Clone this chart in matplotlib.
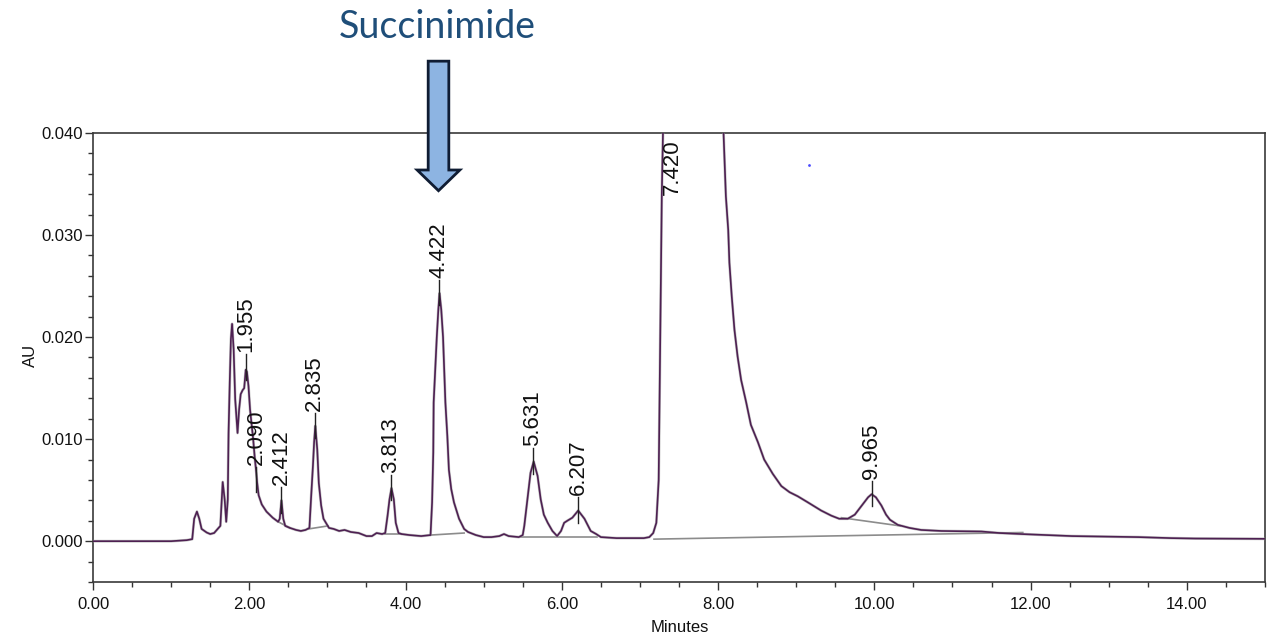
import matplotlib
matplotlib.use("Agg")
import matplotlib.pyplot as plt
from matplotlib.patches import Polygon
from matplotlib.ticker import MultipleLocator, FormatStrFormatter
import matplotlib.transforms as mtransforms

plt.rcParams['font.family'] = ['Liberation Sans', 'DejaVu Sans']

# ---- chromatogram trace (minutes, AU) ----
time_min = [0.00, 0.50, 1.00, 1.20, 1.27, 1.295, 1.33, 1.36, 1.39, 1.455, 1.50, 1.55,
            1.63, 1.66, 1.685, 1.705, 1.725, 1.735, 1.75, 1.765, 1.78, 1.80, 1.82,
            1.85, 1.87, 1.89, 1.915, 1.935, 1.955, 1.97, 1.99, 2.01, 2.05, 2.07, 2.09,
            2.10, 2.12, 2.16, 2.22, 2.30, 2.37, 2.39, 2.412, 2.435, 2.46, 2.52, 2.60,
            2.66, 2.72, 2.77, 2.79, 2.815, 2.83, 2.845, 2.87, 2.89, 2.92, 2.95, 3.02,
            3.08, 3.15, 3.22, 3.30, 3.40, 3.50, 3.57, 3.63, 3.70, 3.74, 3.77, 3.795,
            3.82, 3.85, 3.875, 3.91, 3.95, 4.05, 4.20, 4.32, 4.34, 4.355, 4.36, 4.38,
            4.40, 4.42, 4.435, 4.457, 4.48, 4.495, 4.51, 4.535, 4.555, 4.585, 4.62,
            4.685, 4.75, 4.80, 4.90, 5.00, 5.10, 5.20, 5.26, 5.32, 5.45, 5.50, 5.52,
            5.56, 5.60, 5.64, 5.69, 5.73, 5.77, 5.82, 5.88, 5.94, 5.99, 6.03, 6.07,
            6.135, 6.21, 6.29, 6.37, 6.44, 6.50, 6.70, 6.90, 7.05, 7.12, 7.17, 7.21,
            7.24, 7.26, 7.28, 7.30, 7.42, 7.90, 8.00, 8.07, 8.10, 8.13, 8.145, 8.175,
            8.21, 8.25, 8.295, 8.36, 8.42, 8.51, 8.59, 8.70, 8.81, 8.915, 9.02, 9.15,
            9.32, 9.45, 9.55, 9.66, 9.75, 9.85, 9.92, 9.965, 10.02, 10.09, 10.15, 10.20,
            10.30, 10.45, 10.60, 10.86, 11.10, 11.37, 11.60, 11.88, 12.20, 12.53,
            13.00, 13.38, 13.80, 14.11, 15.00]
absorbance = [0.0000, 0.0000, 0.0000, 0.0001, 0.0002, 0.0022, 0.0029, 0.0022, 0.0012,
              0.00085, 0.0007, 0.0008, 0.0015, 0.0058, 0.0041, 0.0019, 0.0041, 0.0106,
              0.0155, 0.0198, 0.0213, 0.0188, 0.0139, 0.0106, 0.0129, 0.0144, 0.0148,
              0.0150, 0.0168, 0.0166, 0.0152, 0.0129, 0.0100, 0.0082, 0.0067, 0.0058,
              0.0045, 0.0036, 0.0029, 0.0023, 0.0019, 0.0022, 0.0040, 0.0022, 0.0015,
              0.0013, 0.0011, 0.0010, 0.0011, 0.0013, 0.0041, 0.0074, 0.0097, 0.0113,
              0.0090, 0.0057, 0.0035, 0.0022, 0.0013, 0.0012, 0.0010, 0.0011, 0.0009,
              0.0008, 0.0005, 0.0005, 0.0008, 0.0007, 0.0008, 0.0025, 0.0041, 0.0052,
              0.0041, 0.0018, 0.0008, 0.0007, 0.0006, 0.0005, 0.0006, 0.0038, 0.0087,
              0.0136, 0.0168, 0.0200, 0.0227, 0.0243, 0.0227, 0.0200, 0.0168, 0.0136,
              0.0103, 0.0070, 0.0051, 0.0038, 0.0022, 0.0012, 0.0009, 0.0006, 0.0004,
              0.0004, 0.0005, 0.0007, 0.0005, 0.0004, 0.0006, 0.0015, 0.0041, 0.0067,
              0.0078, 0.0064, 0.0041, 0.0026, 0.0018, 0.0010, 0.0005, 0.0010, 0.0018,
              0.0020, 0.0023, 0.0030, 0.0022, 0.0010, 0.0007, 0.0004, 0.0003, 0.0003,
              0.0003, 0.0004, 0.0008, 0.0018, 0.0060, 0.0200, 0.0340, 0.0420, 0.1200,
              0.0800, 0.0500, 0.0400, 0.0338, 0.0305, 0.0273, 0.0240, 0.0207, 0.0181,
              0.0158, 0.0136, 0.0114, 0.0097, 0.0080, 0.0066, 0.0054, 0.0048, 0.0044,
              0.0038, 0.0030, 0.0025, 0.0022, 0.0022, 0.0026, 0.0036, 0.0043, 0.0046,
              0.0043, 0.0035, 0.0026, 0.0021, 0.0016, 0.0013, 0.0011, 0.0010, 0.00098,
              0.00095, 0.0008, 0.0007, 0.0006, 0.0005, 0.00045, 0.0004, 0.0003,
              0.00026, 0.00023]

# ---- labelled peaks ----
peak_labels = ["1.955", "2.090", "2.412", "2.835", "3.813", "4.422", "5.631", "6.207", "9.965"]
peak_times = [1.955, 2.090, 2.412, 2.835, 3.813, 4.422, 5.631, 6.207, 9.965]
peak_heights = [0.0170, 0.0060, 0.0040, 0.0113, 0.0052, 0.0243, 0.0078, 0.0030, 0.0046]
main_peak_label = "7.420"
main_peak_time = 7.420

# ---- integration baselines: (t0, au0, t1, au1) ----
baseline_t0 = [2.37, 2.76, 3.74, 4.32, 5.48, 7.18, 9.58]
baseline_y0 = [0.0019, 0.0012, 0.0007, 0.0006, 0.0004, 0.0002, 0.0023]
baseline_t1 = [2.52, 3.01, 3.94, 4.75, 6.45, 11.90, 10.33]
baseline_y1 = [0.0013, 0.0015, 0.0007, 0.0008, 0.0004, 0.00085, 0.0015]

stray_point_t = [9.17]
stray_point_au = [0.0369]

x_ticks = [0, 2, 4, 6, 8, 10, 12, 14]
y_ticks = [0.000, 0.010, 0.020, 0.030, 0.040]

fig = plt.figure(figsize=(12.73, 6.38), dpi=100)
ax = fig.add_axes([93 / 1273, 1 - 582 / 638, (1265 - 93) / 1273, (582 - 133) / 638])

trace_color = '#4e2052'
for t0, y0, t1, y1 in zip(baseline_t0, baseline_y0, baseline_t1, baseline_y1):
    ax.plot([t0, t1], [y0, y1], color='#8c8c8c', lw=1.2, zorder=2)
ax.plot(time_min, absorbance, color='#a0a0a0', lw=2.0, zorder=3, alpha=0.6)
ax.plot(time_min, absorbance, color=trace_color, lw=1.2, zorder=4)

for lab, t, h in zip(peak_labels, peak_times, peak_heights):
    ax.plot([t, t], [h - 0.0012, h + 0.0013], color='#222222', lw=1.0, zorder=5)
    ax.text(t, h + 0.0015, lab, rotation=90, ha='center', va='bottom',
            fontsize=16, color='#111111', zorder=6)
ax.text(main_peak_time, 0.0394, main_peak_label, rotation=90, ha='center', va='top',
        fontsize=16, color='#111111', zorder=6)

ax.plot(stray_point_t, stray_point_au, 'o', color='#4a4aff', ms=2, mec='none')

ax.set_xlim(0, 15)
ax.set_ylim(-0.004, 0.040)
ax.set_xticks(x_ticks)
ax.set_yticks(y_ticks)
ax.xaxis.set_major_formatter(FormatStrFormatter('%.2f'))
ax.yaxis.set_major_formatter(FormatStrFormatter('%.3f'))
ax.xaxis.set_minor_locator(MultipleLocator(0.5))
ax.yaxis.set_minor_locator(MultipleLocator(0.002))
ax.tick_params(axis='both', which='major', direction='out', length=6, width=1.0,
               colors='#333333', labelcolor='#111111', labelsize=12)
ax.tick_params(axis='both', which='minor', direction='out', length=3.5, width=1.0,
               colors='#333333')
ax.tick_params(axis='y', pad=1)
ax.tick_params(axis='x', pad=5)
for sp in ax.spines.values():
    sp.set_color('#3a3a3a')
    sp.set_linewidth(1.2)

fig.text(30 / 1273, 1 - 355 / 638, "AU", rotation=90, ha='center', va='center',
         fontsize=12, color='#111111')
fig.text(680 / 1273, 1 - 627 / 638, "Minutes", ha='center', va='center',
         fontsize=12, color='#111111')

# Succinimide annotation arrow (x in data units, y in axes units)
trans = mtransforms.blended_transform_factory(ax.transData, ax.transAxes)
cx = 4.422
shaft_hw = 0.132
head_hw = 0.273
y_top, y_head, y_tip = 1.160, 0.9176, 0.8715
arrow_pts = [(cx - shaft_hw, y_top), (cx + shaft_hw, y_top), (cx + shaft_hw, y_head),
             (cx + head_hw, y_head), (cx, y_tip), (cx - head_hw, y_head),
             (cx - shaft_hw, y_head)]
ax.add_patch(Polygon(arrow_pts, closed=True, transform=trans, clip_on=False,
                     facecolor='#8db4e2', edgecolor='#0f1c33', lw=2.0, zorder=10))
fig.text(437 / 1273, 1 - 27 / 638, "Succinimide", ha='center', va='center',
         fontsize=27, color='#1f4e79', family=['Lato', 'DejaVu Sans'])

fig.savefig("out.png", dpi=100)
